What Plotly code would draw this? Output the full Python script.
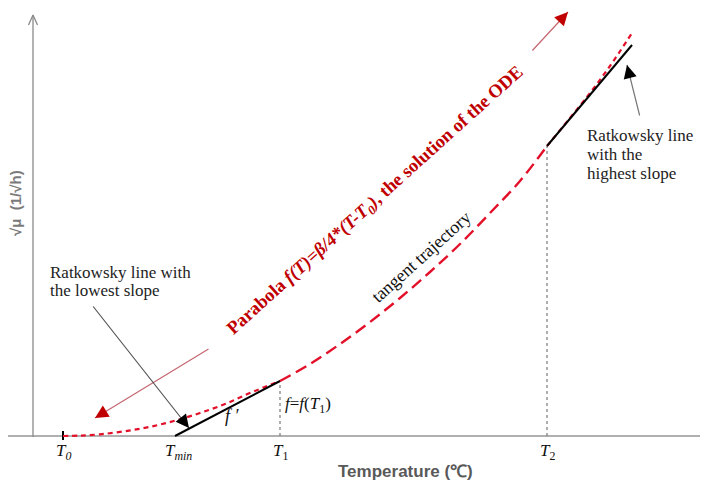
import math
import plotly.graph_objects as go

# Diagram units: x along temperature axis, y height above the T axis
# (both, in pixel-like units)
T0, TMIN, T1, T2 = 63, 175, 280, 547
f_T1, f_T2 = 55, 290

# parabola points
para_lo_x = [63, 80, 100, 125, 150, 175, 200, 225, 250, 280]
para_lo_y = [0, 0.4, 1.7, 4.8, 9.2, 15.3, 23, 32, 43, 55]
para_mid_x = [280, 310, 340, 370, 400, 430, 460, 490, 520, 547]
para_mid_y = [55, 72, 92, 114, 138, 164, 192, 223, 255, 290]
para_hi_x = [547, 570, 590, 610, 632]
para_hi_y = [290, 318, 343, 370, 403]

# Ratkowsky tangent lines
low_line_x = [TMIN, T1]
low_line_y = [0, f_T1]
high_line_x = [T2, 632]
high_line_y = [f_T2, 391]

tick_labels = ['<i>T<sub>0</sub></i>', '<i>T<sub>min</sub></i>',
               '<i>T</i><sub>1</sub>', '<i>T</i><sub>2</sub>']
tick_pos = [T0, TMIN + 3, T1, T2]

low_note = ['Ratkowsky line with', 'the lowest slope']
high_note = ['Ratkowsky line', 'with the', 'highest slope']

RED = '#e3102a'
DARKRED = '#c00000'
SERIF = 'Liberation Serif'

fig = go.Figure()

# axes
fig.add_trace(go.Scatter(x=[2, 702], y=[0, 0], mode='lines',
                         line=dict(color='#b0b0b0', width=2)))
fig.add_trace(go.Scatter(x=[33, 33], y=[-1, 421], mode='lines',
                         line=dict(color='#8a8a8a', width=1.3)))
fig.add_trace(go.Scatter(x=[28.5, 33, 37.5], y=[411, 421, 411], mode='lines',
                         line=dict(color='#8a8a8a', width=1.3)))
fig.add_trace(go.Scatter(x=[T0, T0], y=[-4, 5], mode='lines',
                         line=dict(color='black', width=2)))

# dotted guides
for xv, yv in [(T1, f_T1), (T2, f_T2)]:
    fig.add_trace(go.Scatter(x=[xv, xv], y=[0, yv], mode='lines',
                             line=dict(color='#7a7a7a', width=1.2, dash='dot')))

# parabola
fig.add_trace(go.Scatter(x=para_lo_x, y=para_lo_y, mode='lines',
                         line=dict(color=RED, width=2.2, dash='5px,4px',
                                   shape='spline')))
fig.add_trace(go.Scatter(x=para_mid_x, y=para_mid_y, mode='lines',
                         line=dict(color=RED, width=2.4, dash='12px,6px',
                                   shape='spline')))
fig.add_trace(go.Scatter(x=para_hi_x, y=para_hi_y, mode='lines',
                         line=dict(color=RED, width=2.2, dash='5px,4px',
                                   shape='spline')))

# tangent (Ratkowsky) lines
fig.add_trace(go.Scatter(x=low_line_x, y=low_line_y, mode='lines',
                         line=dict(color='black', width=2)))
fig.add_trace(go.Scatter(x=high_line_x, y=high_line_y, mode='lines',
                         line=dict(color='black', width=2)))


def arrow(tail, tip, color, head_color=None, width=1.2):
    # shaft
    fig.add_annotation(x=tip[0], y=tip[1], ax=tail[0], ay=tail[1],
                       xref='x', yref='y', axref='x', ayref='y',
                       text='', showarrow=True, arrowhead=0,
                       arrowwidth=width, arrowcolor=color)
    # head
    dx, dy = tip[0] - tail[0], tip[1] - tail[1]
    n = math.hypot(dx, dy)
    fig.add_annotation(x=tip[0], y=tip[1],
                       ax=tip[0] - dx / n * 14, ay=tip[1] - dy / n * 14,
                       xref='x', yref='y', axref='x', ayref='y',
                       text='', showarrow=True, arrowhead=2, arrowsize=2.2,
                       arrowwidth=width, arrowcolor=head_color or color)


arrow((531, 384), (568, 424), '#c46670', DARKRED)
arrow((210, 88), (95, 18), '#c46670', DARKRED)
arrow((92, 131), (189, 8), '#555555', 'black')
arrow((640, 319), (627, 371), '#777777', 'black')

# texts
fig.add_annotation(x=375, y=235, text='<b>Parabola <i>f(T)=β/4*(T-T<sub>0</sub>)</i>, '
                   'the solution of the ODE</b>', showarrow=False, textangle=-42,
                   font=dict(family=SERIF, size=18.5, color=DARKRED))
fig.add_annotation(x=421, y=179, text='tangent trajectory', showarrow=False,
                   textangle=-42, font=dict(family=SERIF, size=18, color='#111'))
for i, line in enumerate(low_note):
    fig.add_annotation(x=48, y=164 - i * 18.3, text=line, showarrow=False,
                       xanchor='left', font=dict(family=SERIF, size=17, color='#222'))
for i, line in enumerate(high_note):
    fig.add_annotation(x=585, y=301 - i * 19, text=line, showarrow=False,
                       xanchor='left', font=dict(family=SERIF, size=17, color='#222'))
fig.add_annotation(x=232, y=20, text='<i>f ′</i>', showarrow=False,
                   font=dict(family=SERIF, size=18, color='#111'))
fig.add_annotation(x=283, y=31, text='<i>f</i>=<i>f</i>(<i>T</i><sub>1</sub>)',
                   showarrow=False, xanchor='left',
                   font=dict(family=SERIF, size=17, color='#111'))
for xv, lab in zip(tick_pos, tick_labels):
    fig.add_annotation(x=xv, y=-16, text=lab, showarrow=False,
                       font=dict(family=SERIF, size=17, color='#111'))
fig.add_annotation(x=405, y=-35, text='<b>Temperature (℃)</b>', showarrow=False,
                   font=dict(family='Liberation Sans', size=17, color='#595959'))
fig.add_annotation(x=15, y=233, text='<b>√μ  (1/√h)</b>', showarrow=False,
                   textangle=-90,
                   font=dict(family='Liberation Sans', size=15, color='#7a7a7a'))

# the page body adds an 8 px offset, so the figure covers screen px 8..708
fig.update_layout(
    width=700, height=481,
    margin=dict(l=0, r=0, t=0, b=0),
    showlegend=False,
    plot_bgcolor='white', paper_bgcolor='white',
    xaxis=dict(range=[8, 708], visible=False, fixedrange=True),
    yaxis=dict(range=[-53, 428], visible=False, fixedrange=True),
)
fig.write_html("out.html")
